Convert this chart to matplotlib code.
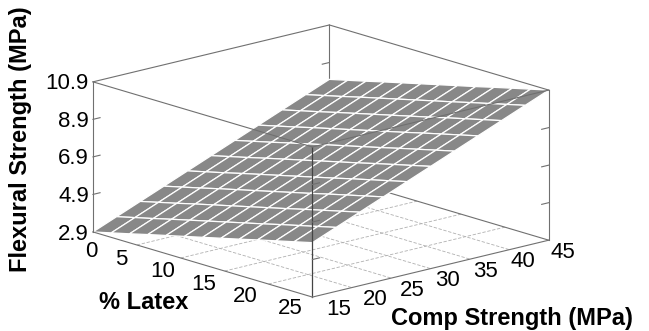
import numpy as np
import matplotlib.pyplot as plt
from mpl_toolkits.mplot3d import proj3d

plt.rcParams['font.family'] = ['Liberation Sans', 'DejaVu Sans']

# response surface grid: rows follow comp strength, columns follow % latex
latex = [0, 2.08, 4.17, 6.25, 8.33, 10.42, 12.5, 14.58, 16.67, 18.75, 20.83, 22.92, 25]
comp = [15, 18, 21, 24, 27, 30, 33, 36, 39, 42, 45]
flex = [
    [2.90, 3.14, 3.38, 3.63, 3.87, 4.11, 4.35, 4.59, 4.83, 5.08, 5.32, 5.56, 5.80],
    [3.41, 3.65, 3.89, 4.14, 4.38, 4.62, 4.86, 5.10, 5.34, 5.59, 5.83, 6.07, 6.31],
    [3.92, 4.16, 4.40, 4.65, 4.89, 5.13, 5.37, 5.61, 5.85, 6.10, 6.34, 6.58, 6.82],
    [4.43, 4.67, 4.91, 5.16, 5.40, 5.64, 5.88, 6.12, 6.36, 6.61, 6.85, 7.09, 7.33],
    [4.94, 5.18, 5.42, 5.67, 5.91, 6.15, 6.39, 6.63, 6.87, 7.12, 7.36, 7.60, 7.84],
    [5.45, 5.69, 5.93, 6.18, 6.42, 6.66, 6.90, 7.14, 7.38, 7.63, 7.87, 8.11, 8.35],
    [5.96, 6.20, 6.44, 6.69, 6.93, 7.17, 7.41, 7.65, 7.89, 8.14, 8.38, 8.62, 8.86],
    [6.47, 6.71, 6.95, 7.20, 7.44, 7.68, 7.92, 8.16, 8.40, 8.65, 8.89, 9.13, 9.37],
    [6.98, 7.22, 7.46, 7.71, 7.95, 8.19, 8.43, 8.67, 8.91, 9.16, 9.40, 9.64, 9.88],
    [7.49, 7.73, 7.97, 8.22, 8.46, 8.70, 8.94, 9.18, 9.42, 9.67, 9.91, 10.15, 10.39],
    [8.00, 8.24, 8.48, 8.73, 8.97, 9.21, 9.45, 9.69, 9.93, 10.18, 10.42, 10.66, 10.90],
]

latex_ticks = [0, 5, 10, 15, 20, 25]
comp_ticks = [15, 20, 25, 30, 35, 40, 45]
flex_ticks = [2.9, 4.9, 6.9, 8.9, 10.9]

fig = plt.figure(figsize=(6.49, 3.31), dpi=100)
# square 3d axes as wide as the figure, so nothing gets clipped
ax = fig.add_axes([-0.0191, -0.4933, 1, 1.9607], projection='3d', proj_type='ortho')
ax.view_init(elev=15.5, azim=-42)
ax.set_box_aspect((1, 0.97, 0.475), zoom=0.722)
ax.set_xlim(latex_ticks[0], latex_ticks[-1])
ax.set_ylim(comp_ticks[0], comp_ticks[-1])
ax.set_zlim(flex_ticks[0], flex_ticks[-1])
ax.set_axis_off()
ax.computed_zorder = False

x0, x1 = latex_ticks[0], latex_ticks[-1]
y0, y1 = comp_ticks[0], comp_ticks[-1]
z0, z1 = flex_ticks[0], flex_ticks[-1]

# floor grid and the edges behind the surface
for lx in latex_ticks[1:-1]:
    ax.plot([lx, lx], [y0, y1], [z0, z0], color='#b0b0b0', lw=0.6, ls=(0, (4, 2)), zorder=1)
for c in comp_ticks[1:-1]:
    ax.plot([x0, x1], [c, c], [z0, z0], color='#b0b0b0', lw=0.6, ls=(0, (4, 2)), zorder=1)
edge_kw = dict(color='#707070', lw=0.8, zorder=1)
ax.plot([x0, x0], [y0, y1], [z0, z0], **edge_kw)
ax.plot([x0, x1], [y1, y1], [z0, z0], **edge_kw)
ax.plot([x0, x0], [y1, y1], [z0, z1], **edge_kw)
for t in flex_ticks[1:-1]:
    ax.plot([x0, x0], [y1, y1 - 0.9], [t, t], **edge_kw)

X, Y = np.meshgrid(latex, comp)
ax.plot_surface(X, Y, np.array(flex), color='#888888', edgecolor='white',
                linewidth=0.9, shade=False, rstride=1, cstride=1, zorder=2)

# front edges of the box sit on top of the surface
edge_kw['zorder'] = 3
ax.plot([x0, x0], [y0, y0], [z0, z1], **edge_kw)
ax.plot([x1, x1], [y0, y0], [z0, z1], color='#444444', lw=0.9, zorder=3)
ax.plot([x1, x1], [y1, y1], [z0, z1], **edge_kw)
ax.plot([x0, x1], [y0, y0], [z0, z0], **edge_kw)
ax.plot([x1, x1], [y0, y1], [z0, z0], **edge_kw)
ax.plot([x0, x1], [y0, y0], [z1, z1], **edge_kw)
ax.plot([x1, x1], [y0, y1], [z1, z1], **edge_kw)
ax.plot([x0, x1], [y1, y1], [z1, z1], **edge_kw)
ax.plot([x0, x0], [y0, y1], [z1, z1], **edge_kw)

# small tick marks on the vertical edges
for t in flex_ticks[1:-1]:
    ax.plot([x0, x0], [y0, y0 + 0.9], [t, t], **edge_kw)
    ax.plot([x1, x1], [y0, y0 + 0.9], [t, t], **edge_kw)
    ax.plot([x1, x1], [y1, y1 - 0.9], [t, t], **edge_kw)

M = ax.get_proj()


def label_at(x, y, z, s, dx, dy, ha='center'):
    px, py, _ = proj3d.proj_transform(x, y, z, M)
    ax.annotate(s, xy=(px, py), xytext=(dx, dy), textcoords='offset points',
                ha=ha, va='center', fontsize=16)


latex_off = [(-1, -14), (-11.5, -10.6), (-13, -9.8), (-15, -9.8), (-16.5, -9.1), (-15.8, -8.4)]
comp_off = [18.7, 16.6, 15.1, 12.2, 11.5, 9.4, 10.1]

for t in flex_ticks:
    label_at(x0, y0, t, f'{t:.1f}', -3, -1.5, ha='right')
for t, (dx, dy) in zip(latex_ticks, latex_off):
    label_at(t, y0, z0, str(t), dx, dy)
for t, dx in zip(comp_ticks, comp_off):
    label_at(x1, t, z0, str(t), dx, -8.6)

fig.text(0.031, 0.58, 'Flexural Strength (MPa)', rotation=90, ha='center', va='center',
         fontsize=17, fontweight='bold')
fig.text(0.222, 0.085, '% Latex', ha='center', va='center', fontsize=17, fontweight='bold')
fig.text(0.789, 0.039, 'Comp Strength (MPa)', ha='center', va='center', fontsize=17, fontweight='bold')

fig.savefig('out.png', dpi=100)
